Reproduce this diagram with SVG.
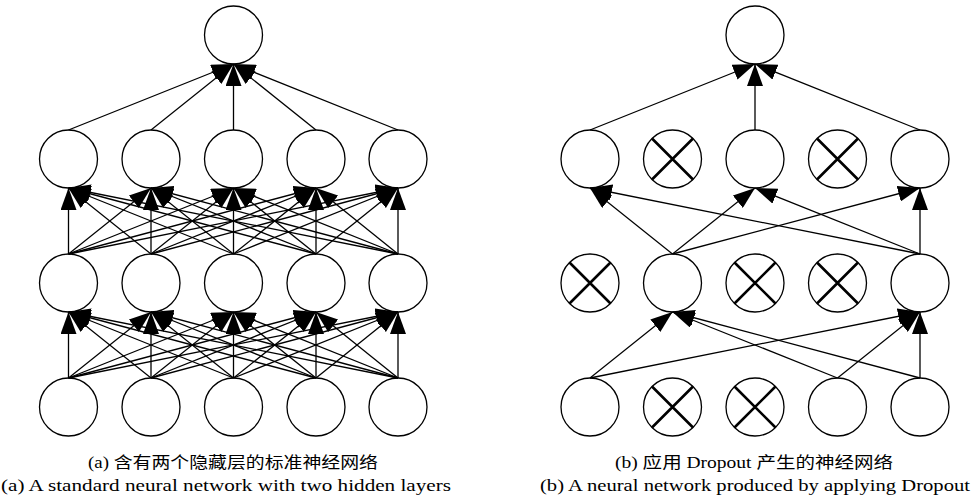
<svg xmlns="http://www.w3.org/2000/svg" width="973" height="500" viewBox="0 0 973 500">
<style>
.n{fill:#fff;stroke:#000;stroke-width:1.3}
.x{stroke:#000;stroke-width:2.6;fill:none}
.e line{stroke:#000;stroke-width:1.3;marker-end:url(#ah)}
.cap{font-family:"Liberation Serif","Noto Sans CJK SC",serif;font-size:16px;fill:#000}
</style>
<defs>
<marker id="ah" markerUnits="userSpaceOnUse" markerWidth="22" markerHeight="16" viewBox="0 0 22 16" refX="22" refY="8" orient="auto">
<path d="M0,0 L22,8 L0,16 z" fill="#000"/>
</marker>
<g id="xm"><path d="M-20.5,-20.5 L20.5,20.5 M20.5,-20.5 L-20.5,20.5" class="x"/></g>
</defs>
<rect width="973" height="500" fill="#fff"/>
<g id="left-nodes">
<circle id="a-out" class="n" cx="233.5" cy="35" r="29"/>
<circle id="a-h1-1" class="n" cx="68.5" cy="159" r="29"/>
<circle id="a-h1-2" class="n" cx="151" cy="159" r="29"/>
<circle id="a-h1-3" class="n" cx="233.5" cy="159" r="29"/>
<circle id="a-h1-4" class="n" cx="316" cy="159" r="29"/>
<circle id="a-h1-5" class="n" cx="398" cy="159" r="29"/>
<circle id="a-h2-1" class="n" cx="68.5" cy="283" r="29"/>
<circle id="a-h2-2" class="n" cx="151" cy="283" r="29"/>
<circle id="a-h2-3" class="n" cx="233.5" cy="283" r="29"/>
<circle id="a-h2-4" class="n" cx="316" cy="283" r="29"/>
<circle id="a-h2-5" class="n" cx="398" cy="283" r="29"/>
<circle id="a-in-1" class="n" cx="68.5" cy="407" r="29"/>
<circle id="a-in-2" class="n" cx="151" cy="407" r="29"/>
<circle id="a-in-3" class="n" cx="233.5" cy="407" r="29"/>
<circle id="a-in-4" class="n" cx="316" cy="407" r="29"/>
<circle id="a-in-5" class="n" cx="398" cy="407" r="29"/>
</g>
<g id="right-nodes">
<g id="b-out"><circle class="n" cx="755" cy="35" r="29"/></g>
<g id="b-h1-1"><circle class="n" cx="590" cy="159" r="29"/></g>
<g id="b-h1-2"><circle class="n" cx="672.5" cy="159" r="29"/><use href="#xm" x="672.5" y="159"/></g>
<g id="b-h1-3"><circle class="n" cx="755" cy="159" r="29"/></g>
<g id="b-h1-4"><circle class="n" cx="837.5" cy="159" r="29"/><use href="#xm" x="837.5" y="159"/></g>
<g id="b-h1-5"><circle class="n" cx="920" cy="159" r="29"/></g>
<g id="b-h2-1"><circle class="n" cx="590" cy="283" r="29"/><use href="#xm" x="590" y="283"/></g>
<g id="b-h2-2"><circle class="n" cx="672.5" cy="283" r="29"/></g>
<g id="b-h2-3"><circle class="n" cx="755" cy="283" r="29"/><use href="#xm" x="755" y="283"/></g>
<g id="b-h2-4"><circle class="n" cx="837.5" cy="283" r="29"/><use href="#xm" x="837.5" y="283"/></g>
<g id="b-h2-5"><circle class="n" cx="920" cy="283" r="29"/></g>
<g id="b-in-1"><circle class="n" cx="590" cy="407" r="29"/></g>
<g id="b-in-2"><circle class="n" cx="672.5" cy="407" r="29"/><use href="#xm" x="672.5" y="407"/></g>
<g id="b-in-3"><circle class="n" cx="755" cy="407" r="29"/><use href="#xm" x="755" y="407"/></g>
<g id="b-in-4"><circle class="n" cx="837.5" cy="407" r="29"/></g>
<g id="b-in-5"><circle class="n" cx="920" cy="407" r="29"/></g>
</g>
<g id="connectors" class="e">
<line x1="68.5" y1="378" x2="68.5" y2="312"/><line x1="68.5" y1="378" x2="151" y2="312"/><line x1="68.5" y1="378" x2="233.5" y2="312"/><line x1="68.5" y1="378" x2="316" y2="312"/><line x1="68.5" y1="378" x2="398" y2="312"/>
<line x1="151" y1="378" x2="68.5" y2="312"/><line x1="151" y1="378" x2="151" y2="312"/><line x1="151" y1="378" x2="233.5" y2="312"/><line x1="151" y1="378" x2="316" y2="312"/><line x1="151" y1="378" x2="398" y2="312"/>
<line x1="233.5" y1="378" x2="68.5" y2="312"/><line x1="233.5" y1="378" x2="151" y2="312"/><line x1="233.5" y1="378" x2="233.5" y2="312"/><line x1="233.5" y1="378" x2="316" y2="312"/><line x1="233.5" y1="378" x2="398" y2="312"/>
<line x1="316" y1="378" x2="68.5" y2="312"/><line x1="316" y1="378" x2="151" y2="312"/><line x1="316" y1="378" x2="233.5" y2="312"/><line x1="316" y1="378" x2="316" y2="312"/><line x1="316" y1="378" x2="398" y2="312"/>
<line x1="398" y1="378" x2="68.5" y2="312"/><line x1="398" y1="378" x2="151" y2="312"/><line x1="398" y1="378" x2="233.5" y2="312"/><line x1="398" y1="378" x2="316" y2="312"/><line x1="398" y1="378" x2="398" y2="312"/>
<line x1="68.5" y1="254" x2="68.5" y2="188"/><line x1="68.5" y1="254" x2="151" y2="188"/><line x1="68.5" y1="254" x2="233.5" y2="188"/><line x1="68.5" y1="254" x2="316" y2="188"/><line x1="68.5" y1="254" x2="398" y2="188"/>
<line x1="151" y1="254" x2="68.5" y2="188"/><line x1="151" y1="254" x2="151" y2="188"/><line x1="151" y1="254" x2="233.5" y2="188"/><line x1="151" y1="254" x2="316" y2="188"/><line x1="151" y1="254" x2="398" y2="188"/>
<line x1="233.5" y1="254" x2="68.5" y2="188"/><line x1="233.5" y1="254" x2="151" y2="188"/><line x1="233.5" y1="254" x2="233.5" y2="188"/><line x1="233.5" y1="254" x2="316" y2="188"/><line x1="233.5" y1="254" x2="398" y2="188"/>
<line x1="316" y1="254" x2="68.5" y2="188"/><line x1="316" y1="254" x2="151" y2="188"/><line x1="316" y1="254" x2="233.5" y2="188"/><line x1="316" y1="254" x2="316" y2="188"/><line x1="316" y1="254" x2="398" y2="188"/>
<line x1="398" y1="254" x2="68.5" y2="188"/><line x1="398" y1="254" x2="151" y2="188"/><line x1="398" y1="254" x2="233.5" y2="188"/><line x1="398" y1="254" x2="316" y2="188"/><line x1="398" y1="254" x2="398" y2="188"/>
<line x1="68.5" y1="130" x2="233.5" y2="64"/><line x1="151" y1="130" x2="233.5" y2="64"/><line x1="233.5" y1="130" x2="233.5" y2="64"/><line x1="316" y1="130" x2="233.5" y2="64"/><line x1="398" y1="130" x2="233.5" y2="64"/>
<line x1="590" y1="378" x2="672.5" y2="312"/><line x1="590" y1="378" x2="920" y2="312"/>
<line x1="837.5" y1="378" x2="672.5" y2="312"/><line x1="837.5" y1="378" x2="920" y2="312"/>
<line x1="920" y1="378" x2="672.5" y2="312"/><line x1="920" y1="378" x2="920" y2="312"/>
<line x1="672.5" y1="254" x2="590" y2="188"/><line x1="672.5" y1="254" x2="755" y2="188"/><line x1="672.5" y1="254" x2="920" y2="188"/>
<line x1="920" y1="254" x2="590" y2="188"/><line x1="920" y1="254" x2="755" y2="188"/><line x1="920" y1="254" x2="920" y2="188"/>
<line x1="590" y1="130" x2="755" y2="64"/><line x1="755" y1="130" x2="755" y2="64"/><line x1="920" y1="130" x2="755" y2="64"/>
</g>
<g id="captions" class="cap">
<text x="233" y="468" text-anchor="middle" textLength="290" lengthAdjust="spacingAndGlyphs">(a) 含有两个隐藏层的标准神经网络</text>
<text x="226" y="491" text-anchor="middle" textLength="450" lengthAdjust="spacingAndGlyphs">(a) A standard neural network with two hidden layers</text>
<text x="754" y="468" text-anchor="middle" textLength="278" lengthAdjust="spacingAndGlyphs">(b) 应用 Dropout 产生的神经网络</text>
<text x="755" y="491" text-anchor="middle" textLength="430" lengthAdjust="spacingAndGlyphs">(b) A neural network produced by applying Dropout</text>
</g>
</svg>
